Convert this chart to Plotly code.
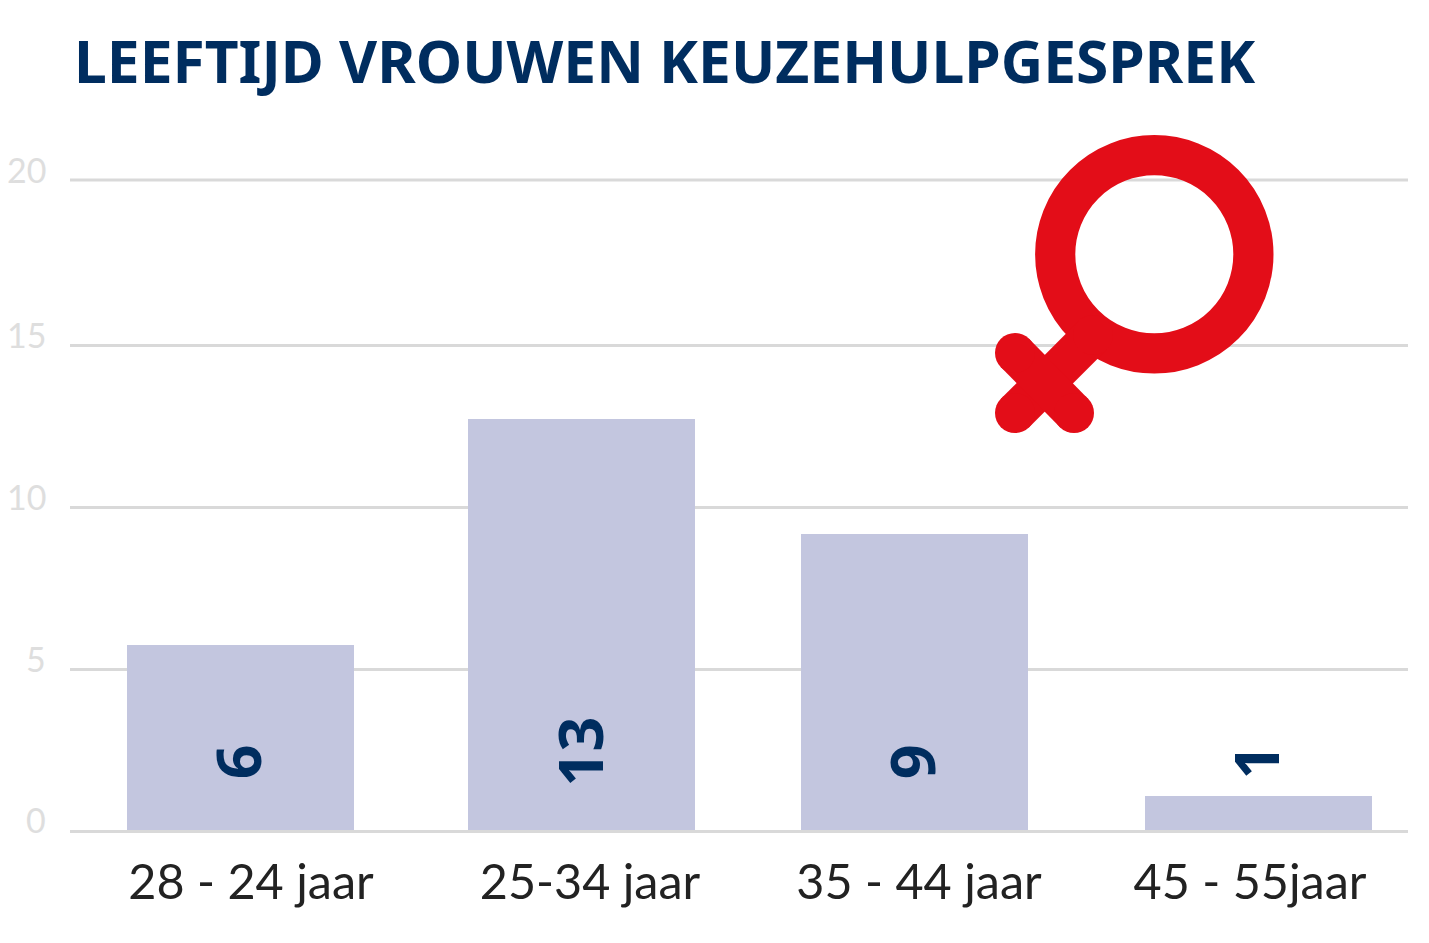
import plotly.graph_objects as go

OFF = 8  # page body margin
W, H = 1429 - 2 * OFF, 943 - 2 * OFF
L, R, T, B = 70, 1408, 180, 830

categories = ["28 - 24 jaar", "25-34 jaar", "35 - 44 jaar", "45 - 55jaar"]
values = [5.7, 12.65, 9.1, 1.05]
value_labels = ["6", "13", "9", "1"]
bar_centers = [240.5, 581.5, 914.5, 1258.5]
label_centers = [251, 590, 919, 1250]
label_y = [2.1, 2.4, 2.1, 2.1]
y_ticks = [0, 5, 10, 15, 20]
y_tick_positions = [0, 4.95, 9.93, 14.92, 20]

NAVY = "#002d5f"
RED = "#e30d18"
BAR = "#c3c6df"
GRID = "#d9d9d9"
SANS = "Noto Sans"
LIGHT = "Lato"


def fx(x):
    return (x - L) / (R - L)


def fy(y):
    return (B - y) / (B - T)


fig = go.Figure()
fig.add_trace(go.Bar(x=bar_centers, y=values, width=227, marker=dict(color=BAR, line_width=0),
                     hoverinfo="skip", showlegend=False))

annotations = [
    dict(text="<b>LEEFTIJD VROUWEN KEUZEHULPGESPREK</b>", xref="paper", yref="paper",
         x=fx(75), y=fy(60), xanchor="left", yanchor="middle", xshift=-3,
         showarrow=False, font=dict(family=SANS, size=58.7, color=NAVY)),
]
for xc, ly, t in zip(bar_centers, label_y, value_labels):
    annotations.append(dict(text=f"<b>{t}</b>", x=xc - 3, y=ly, xref="x", yref="y", showarrow=False,
                            textangle=-90, font=dict(family=SANS, size=61, color=NAVY)))
for v, pos in zip(y_ticks, y_tick_positions):
    annotations.append(dict(text=str(v), x=fx(48), y=pos, xref="paper", yref="y", showarrow=False,
                            xanchor="right", yanchor="middle", yshift=11,
                            font=dict(family=LIGHT, size=34, color="#dedede")))

# top gridline (the axis drops a gridline lying on the range edge)
shapes = [
    dict(type="line", xref="paper", yref="paper", x0=0, x1=1, y0=1, y1=1,
         line=dict(color=GRID, width=3), layer="below"),
]

# Venus symbol
cx, cy, ro, ri = 1154.3, 254.3, 119.2, 79
rm = (ro + ri) / 2
sw = ro - ri
shapes.append(
    dict(type="circle", xref="paper", yref="paper",
         x0=fx(cx - rm), x1=fx(cx + rm), y0=fy(cy + rm), y1=fy(cy - rm),
         line=dict(color=RED, width=sw), fillcolor="rgba(0,0,0,0)", layer="above"),
)


def seg(x0, y0, x1, y1, w):
    shapes.append(dict(type="line", xref="paper", yref="paper",
                       x0=fx(x0), x1=fx(x1), y0=fy(y0), y1=fy(y1),
                       line=dict(color=RED, width=w), layer="above"))
    r = w / 2
    for xx, yy in ((x0, y0), (x1, y1)):
        shapes.append(dict(type="circle", xref="paper", yref="paper",
                           x0=fx(xx - r), x1=fx(xx + r), y0=fy(yy + r), y1=fy(yy - r),
                           fillcolor=RED, line_width=0, layer="above"))


seg(1015, 413, 1093, 335, 40)
seg(1015, 353, 1074, 413, 40)

fig.update_layout(
    width=W, height=H, autosize=False,
    paper_bgcolor="white", plot_bgcolor="white",
    margin=dict(l=L - OFF, r=W - (R - OFF), t=T - OFF, b=H - (B - OFF)),
    showlegend=False, bargap=0,
    annotations=annotations, shapes=shapes,
    xaxis=dict(range=[L, R], tickmode="array", tickvals=label_centers, ticktext=categories,
               showgrid=False, zeroline=False, showline=True, linecolor=GRID, linewidth=3,
               ticks="", ticklabelstandoff=8,
               tickfont=dict(family=LIGHT, size=48.5, color="#222222")),
    yaxis=dict(range=[0, 20], tickmode="array", tickvals=y_tick_positions, showticklabels=False,
               showgrid=True, gridcolor=GRID, gridwidth=3, zeroline=False, showline=False, ticks=""),
)
fig.write_html("out.html")
